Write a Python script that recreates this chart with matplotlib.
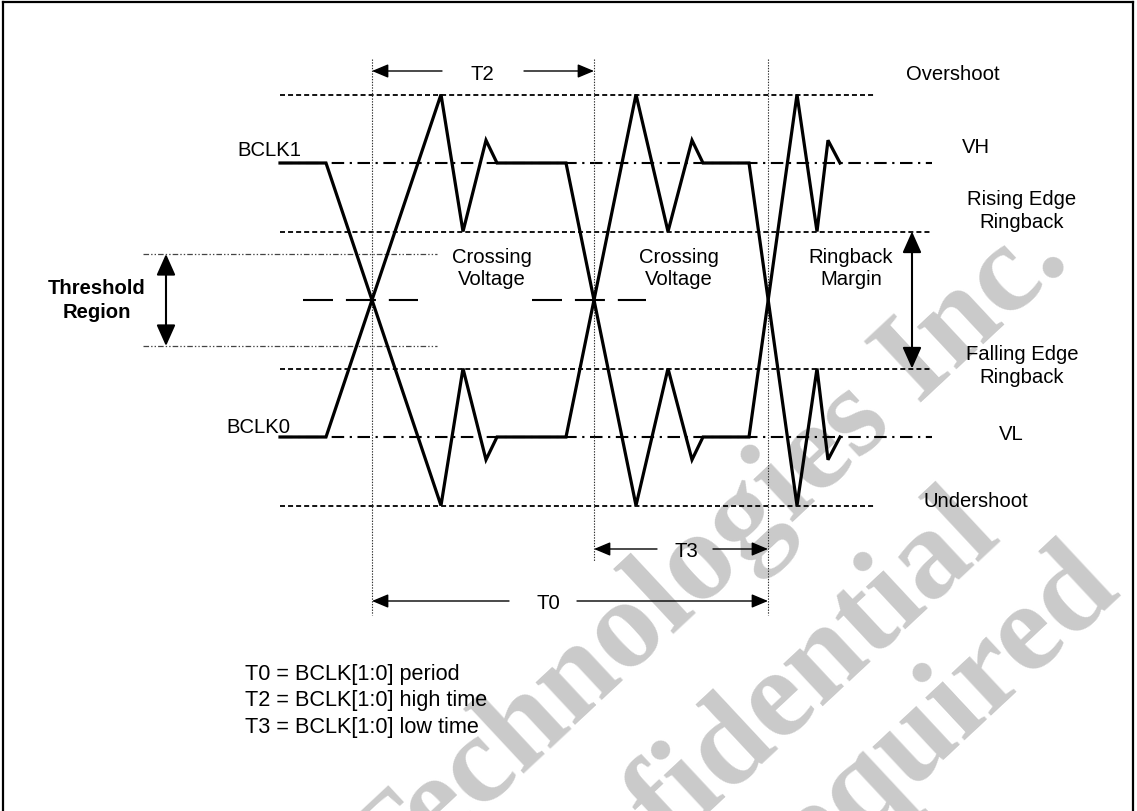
import matplotlib
matplotlib.use('Agg')
import matplotlib.pyplot as plt

plt.rcParams['font.family'] = ['Liberation Sans', 'DejaVu Sans']
plt.rcParams['lines.scale_dashes'] = False

W, H = 1137, 812

# ---- data: normalised voltage levels (VL = 0, VH = 1) ----
level_names = ['Overshoot', 'VH', 'Rising Edge Ringback', 'Falling Edge Ringback', 'VL', 'Undershoot']
level_values = [1.25, 1.0, 0.75, 0.25, 0.0, -0.25]
level_x_end = [875, 932, 932, 932, 932, 875]
level_styles = ['dash', 'dashdot', 'dash', 'dash', 'dashdot', 'dash']
crossing_level = 0.5
threshold_levels = [0.668, 0.332]

# ---- data: waveform break points (time axis in px) ----
t_points = [280, 326, 441, 463, 486, 497, 566, 636, 668, 692, 703, 749, 797, 817, 828, 840]
bclk1_v = [1.0, 1.0, -0.25, 0.25, -0.083, 0.0, 0.0, 1.25, 0.75, 1.083, 1.0, 1.0, -0.25, 0.25, -0.083, 0.0]
bclk0_v = [0.0, 0.0, 1.25, 0.75, 1.083, 1.0, 1.0, -0.25, 0.25, -0.083, 0.0, 0.0, 1.25, 0.75, 1.083, 1.0]

crossing_t = [372, 594, 768]
crossing_marks = [(303, 418), (532, 646)]

# timing arrows
timing_labels = ['T2', 'T3', 'T0']
timing_start = [372, 594, 372]
timing_end = [594, 768, 768]
timing_label_x = [482, 686, 548]
timing_gap = [(442, 524), (657, 713), (509, 577)]
timing_y_px = [72, 550, 602]

notes = ['T0 = BCLK[1:0] period', 'T2 = BCLK[1:0] high time', 'T3 = BCLK[1:0] low time']
watermark_lines = ['Technologies Inc.', 'Confidential', 'Required']

# ---- pixel <-> voltage mapping for layout ----
Y0, SCALE = 438.0, 274.0
def pv(y):
    return (Y0 - y) / SCALE

fig = plt.figure(figsize=(W / 100, H / 100), dpi=100)
ax = fig.add_axes([0, 0, 1, 1])
ax.set_xlim(0, W)
ax.set_ylim(pv(H), pv(0))
ax.axis('off')

FS = 14.6
# ---- watermark ----
wm_ends = [(1071, 262), (1001, 534), (1122, 592)]
for txt, (ex, ey) in zip(watermark_lines, wm_ends):
    ax.text(ex, pv(ey), txt, rotation=43, rotation_mode='anchor', ha='right', va='baseline',
            fontsize=92, fontweight='bold', family=['Liberation Serif', 'DejaVu Serif'],
            color='#cacaca', zorder=0)

# ---- frame ----
ax.plot([3, 1133], [pv(3), pv(3)], color='k', lw=1.6, zorder=5, solid_capstyle='projecting')
ax.plot([3, 3], [pv(3), pv(H + 5)], color='k', lw=1.6, zorder=5)
ax.plot([1133, 1133], [pv(3), pv(H + 5)], color='k', lw=1.6, zorder=5)

# ---- level lines ----
for v, xe, st in zip(level_values, level_x_end, level_styles):
    if st == 'dash':
        ax.plot([280, xe], [v, v], color='k', lw=1.3, linestyle=(0, (3.6, 2.2)), zorder=2)
    else:
        ax.plot([280, xe], [v, v], color='k', lw=1.5, linestyle=(0, (9, 4, 1.6, 4)), zorder=2)

# threshold lines
for v in threshold_levels:
    ax.plot([143, 437], [v, v], color='#444', lw=0.9, linestyle=(0, (4, 1.5, 1, 1.5, 1, 1.5)), zorder=2)

# crossing voltage marks
for x0, x1 in crossing_marks:
    ax.plot([x0, x1], [crossing_level, crossing_level], color='k', lw=1.5,
            linestyle=(0, (21.6, 9.3)), zorder=2)

# vertical dotted lines
v_bottom = [616, 562, 616]
for t, yb in zip(crossing_t, v_bottom):
    ax.plot([t, t], [pv(60), pv(yb)], color='#333', lw=0.8, linestyle=(0, (1, 1)), zorder=2)

# ---- waveforms ----
for vals in (bclk1_v, bclk0_v):
    ax.plot(t_points, vals, color='k', lw=2.3, solid_joinstyle='miter', zorder=4)

# ---- timing arrows ----
arrow_thin = dict(arrowstyle='-|>,head_length=1.0,head_width=0.42', color='k', lw=1.0,
                  shrinkA=0, shrinkB=0, mutation_scale=10)
for lab, ts, te, lx, (g0, g1), ypx in zip(timing_labels, timing_start, timing_end,
                                          timing_label_x, timing_gap, timing_y_px):
    v = pv(ypx)
    ax.annotate('', xy=(ts, v), xytext=(g0, v), arrowprops=arrow_thin, zorder=5)
    ax.annotate('', xy=(te, v), xytext=(g1, v), arrowprops=arrow_thin, zorder=5)
    ax.text(lx, v, lab, ha='center', va='center_baseline', fontsize=FS, zorder=6)

# ---- vertical double arrows ----
arrow_thick = dict(arrowstyle='<|-|>,head_length=1.3,head_width=0.58', color='k', lw=1.5,
                   shrinkA=0, shrinkB=0, mutation_scale=10)
ax.annotate('', xy=(912, level_values[2]), xytext=(912, level_values[3]), arrowprops=arrow_thick, zorder=5)
ax.annotate('', xy=(166, threshold_levels[0]), xytext=(166, threshold_levels[1]), arrowprops=arrow_thick, zorder=5)

# ---- labels ----
def label(x, ybase, s, ha='center', **kw):
    ax.text(x, pv(ybase), s, ha=ha, va='baseline', fontsize=FS, zorder=6, **kw)

label(237, 156, 'BCLK1', ha='left')
label(226, 433, 'BCLK0', ha='left')
label(492, 263, 'Crossing'); label(492, 285, 'Voltage')
label(679, 263, 'Crossing'); label(679, 285, 'Voltage')
label(851, 263, 'Ringback'); label(851, 285, 'Margin')
label(953, 80, 'Overshoot')
label(976, 153, 'VH')
label(1022, 205, 'Rising Edge'); label(1022, 228, 'Ringback')
label(1022, 360, 'Falling Edge'); label(1022, 383, 'Ringback')
label(1011, 440, 'VL')
label(976, 507, 'Undershoot')
label(97, 294, 'Threshold', fontweight='bold')
label(97, 318, 'Region', fontweight='bold')

for i, s in enumerate(notes):
    ax.text(245, pv(680 + 26.5 * i), s, ha='left', va='baseline', fontsize=15.6, zorder=6)

fig.savefig('out.png', dpi=100)
